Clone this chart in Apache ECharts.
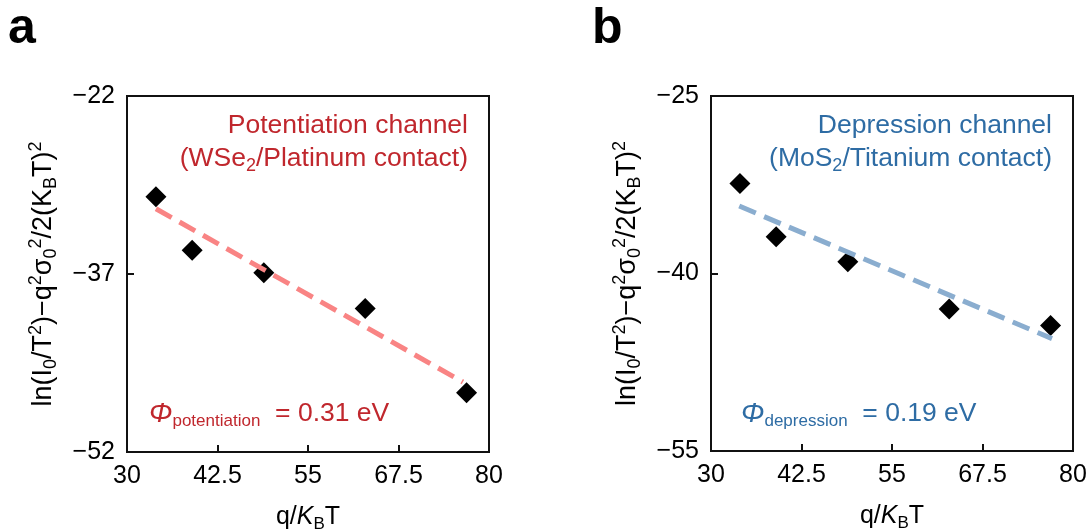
<!DOCTYPE html>
<html>
<head>
<meta charset="utf-8">
<script src="https://cdn.jsdelivr.net/npm/echarts@6/dist/echarts.min.js"></script>
<style>
  html, body { margin: 0; padding: 0; background: #fff; }
  #chart { width: 1090px; height: 531px; }
</style>
</head>
<body>
<div id="chart"></div>
<script>
// q/kT values and Arrhenius-type ordinates for both channels
const qOverKT = [34.0, 39.0, 48.9, 62.9, 76.9];
const potentiationY = [-30.5, -35.0, -36.9, -39.9, -47.0];
const depressionY = [-32.4, -36.9, -39.0, -43.0, -44.4];

// linear fit end points (x, y)
const potentiationFit = [[34.0, -31.5], [76.4, -46.1]];
const depressionFit = [[33.9, -34.3], [77.1, -45.5]];

// tick values
const xTicks = [30, 42.5, 55, 67.5, 80];
const yTicksA = [-52, -37, -22];
const yTicksB = [-55, -40, -25];

const FONT = '"Liberation Sans", Arial, sans-serif';
const RED = '#C0272D';
const RED_LINE = '#F98484';
const BLUE = '#2E6CA4';
const BLUE_LINE = '#8AADCF';

const minus = v => String(v).replace('-', '\u2212');

function axisRich(size) {
  const s = Math.round(size * 0.68);
  return {
    n: { fontSize: size, lineHeight: size + 6, fontFamily: FONT, color: '#000' },
    sub: { fontSize: s, lineHeight: s, verticalAlign: 'bottom', fontFamily: FONT, color: '#000' },
    sup: { fontSize: s, lineHeight: s, verticalAlign: 'top', fontFamily: FONT, color: '#000' },
    i: { fontSize: size, lineHeight: size + 6, fontStyle: 'italic', fontFamily: FONT, color: '#000' }
  };
}

const yName = '{n|ln(I}{sub|0}{n|/T}{sup|2}{n|)\u2212q}{sup|2}{n|\u03c3}{sub|0}{sup|2}{n|/2(K}{sub|B}{n|T)}{sup|2}';
const xName = '{n|q/}{i|K}{sub|B}{n|T}';

function xAxisFor(gridIndex) {
  return {
    type: 'value', gridIndex, min: 30, max: 80,
    name: xName, nameLocation: 'middle', nameGap: 50,
    nameTextStyle: { rich: axisRich(25) },
    axisLine: { lineStyle: { color: '#111', width: 2 } },
    axisTick: { inside: true, length: 7, lineStyle: { color: '#111', width: 2 }, customValues: xTicks },
    axisLabel: { fontSize: 25, color: '#000', fontFamily: FONT, margin: 12, customValues: xTicks, formatter: minus },
    splitLine: { show: false }
  };
}
function yAxisFor(gridIndex, min, max, ticks) {
  return {
    type: 'value', gridIndex, min, max,
    name: yName, nameLocation: 'middle', nameGap: 67, nameRotate: 90,
    nameTextStyle: { rich: axisRich(27) },
    axisLine: { lineStyle: { color: '#111', width: 2 } },
    axisTick: { inside: true, length: 7, lineStyle: { color: '#111', width: 2 }, customValues: ticks },
    axisLabel: { fontSize: 25, color: '#000', fontFamily: FONT, margin: 12, customValues: ticks, formatter: minus },
    splitLine: { show: false }
  };
}

function scatter(idx, ys) {
  return {
    type: 'scatter', xAxisIndex: idx, yAxisIndex: idx,
    data: qOverKT.map((x, i) => [x, ys[i]]),
    symbol: 'diamond', symbolSize: 21,
    itemStyle: { color: '#000', opacity: 1 }, z: 2
  };
}
function fit(idx, pts, color) {
  return {
    type: 'line', xAxisIndex: idx, yAxisIndex: idx,
    data: pts, symbol: 'none', z: 3,
    lineStyle: { color, width: 5, type: [18, 9] }
  };
}

function txt(x, y, text, rich, align) {
  return {
    type: 'text', x, y,
    style: { text, rich, align: align || 'left', verticalAlign: 'middle', font: '26px ' + FONT }
  };
}
function annRich(color) {
  return {
    t: { fontSize: 26.5, lineHeight: 32, fontFamily: FONT, fill: color },
    s: { fontSize: 18, lineHeight: 18, verticalAlign: 'bottom', fontFamily: FONT, fill: color },
    phi: { fontSize: 28, lineHeight: 32, fontStyle: 'italic', fontFamily: FONT, fill: color },
    ps: { fontSize: 17, lineHeight: 14, verticalAlign: 'bottom', fontFamily: FONT, fill: color }
  };
}

const chart = echarts.init(document.getElementById('chart'), null, { renderer: 'canvas' });
chart.setOption({
  animation: false,
  backgroundColor: '#fff',
  textStyle: { fontFamily: FONT },
  grid: [
    { left: 127, top: 96, width: 362, height: 356, outerBoundsMode: 'none', containLabel: false, show: true, borderColor: '#111', borderWidth: 2, backgroundColor: 'transparent' },
    { left: 711, top: 96, width: 362, height: 355, outerBoundsMode: 'none', containLabel: false, show: true, borderColor: '#111', borderWidth: 2, backgroundColor: 'transparent' }
  ],
  xAxis: [xAxisFor(0), xAxisFor(1)],
  yAxis: [yAxisFor(0, -52, -22, yTicksA), yAxisFor(1, -55, -25, yTicksB)],
  series: [
    scatter(0, potentiationY),
    fit(0, potentiationFit, RED_LINE),
    scatter(1, depressionY),
    fit(1, depressionFit, BLUE_LINE)
  ],
  graphic: [
    { type: 'text', x: 8, y: 29, style: { text: 'a', font: 'bold 50px ' + FONT, fill: '#000', verticalAlign: 'middle' } },
    { type: 'text', x: 592, y: 29, style: { text: 'b', font: 'bold 50px ' + FONT, fill: '#000', verticalAlign: 'middle' } },
    txt(468, 126, '{t|Potentiation channel}', annRich(RED), 'right'),
    txt(468, 159, '{t|(WSe}{s|2}{t|/Platinum contact)}', annRich(RED), 'right'),
    txt(149, 414, '{phi|\u03a6}{ps|potentiation}{t|  = 0.31 eV}', annRich(RED)),
    txt(1052, 126, '{t|Depression channel}', annRich(BLUE), 'right'),
    txt(1052, 159, '{t|(MoS}{s|2}{t|/Titanium contact)}', annRich(BLUE), 'right'),
    txt(741, 414, '{phi|\u03a6}{ps|depression}{t|  = 0.19 eV}', annRich(BLUE))
  ]
});
</script>
</body>
</html>
